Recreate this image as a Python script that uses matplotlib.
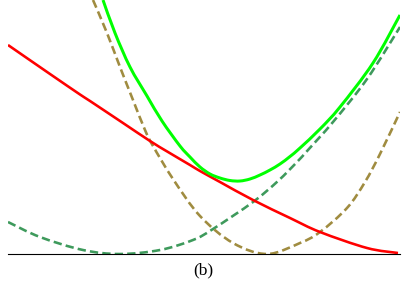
import numpy as np
import matplotlib
matplotlib.use('Agg')
import matplotlib.pyplot as plt
from matplotlib.path import Path
from matplotlib.patches import PathPatch

# values (x in px from left, y as height above the axis line)
red_x = [8, 50, 80, 90, 123, 150, 168, 190, 200, 220, 253, 290, 320, 367, 398]
red_y = [209, 180, 159.5, 153, 131, 113, 102, 89, 83, 72, 54, 36, 22, 6, 1]

olive_x = [93, 107, 120, 133, 145, 153, 173, 200, 233, 267, 300, 320, 347, 365, 380, 400]
olive_y = [254, 221, 187, 154, 124, 108, 75, 38, 11, 0, 11, 22, 46, 72, 100, 142]

gdash_x = [8, 40, 83, 120, 160, 193, 213, 253, 278, 297, 308, 333, 367, 400]
gdash_y = [32, 17, 4, 0, 4, 14, 25, 52, 73, 92, 104, 132, 175, 227]

green_x = [103, 115, 130, 147, 162, 180, 190, 200, 210, 220, 230, 240, 250, 260,
           270, 280, 290, 300, 320, 340, 373, 400]
green_y = [254, 221, 187, 158, 133, 108, 97, 87, 80, 76, 73.5, 73, 75, 79,
           84, 90, 97.5, 106, 125, 147, 191, 239]


def smooth_path(xs, ys):
    # catmull-rom through the read points, drawn as cubic bezier segments
    p = np.column_stack([xs, ys]).astype(float)
    verts = [p[0]]
    codes = [Path.MOVETO]
    for i in range(len(p) - 1):
        p0 = p[i - 1] if i > 0 else p[i]
        p3 = p[i + 2] if i + 2 < len(p) else p[i + 1]
        c1 = p[i] + (p[i + 1] - p0) / 6
        c2 = p[i + 1] - (p3 - p[i]) / 6
        verts += [c1, c2, p[i + 1]]
        codes += [Path.CURVE4] * 3
    return Path(verts, codes)


fig = plt.figure(figsize=(4.07, 2.85), dpi=100)
ax = fig.add_axes([8 / 407, 31 / 285, 392 / 407, 254 / 285])

px = 0.72  # one pixel in points
lw = 2.6 * px
dash = (0, (3.2, 1.6))
ax.add_patch(PathPatch(smooth_path(gdash_x, gdash_y), fill=False, ec='#3e9a5c',
                       lw=lw, ls=dash))
ax.add_patch(PathPatch(smooth_path(olive_x, olive_y), fill=False, ec='#a08c40',
                       lw=lw, ls=dash))
ax.add_patch(PathPatch(smooth_path(red_x, red_y), fill=False, ec='#ff0000', lw=lw))
ax.add_patch(PathPatch(smooth_path(green_x, green_y), fill=False, ec='#00ff00',
                       lw=3 * px))

ax.set_xlim(8, 400)
ax.set_ylim(0, 254)
for s in ['top', 'left', 'right']:
    ax.spines[s].set_visible(False)
ax.spines['bottom'].set_linewidth(0.8)
ax.set_xticks([])
ax.set_yticks([])

fig.text(203 / 407, 1 - 270 / 285, '(b)', ha='center', va='center',
         family=['Liberation Serif', 'DejaVu Serif'], fontsize=12.5)

fig.savefig('out.png', dpi=100)
